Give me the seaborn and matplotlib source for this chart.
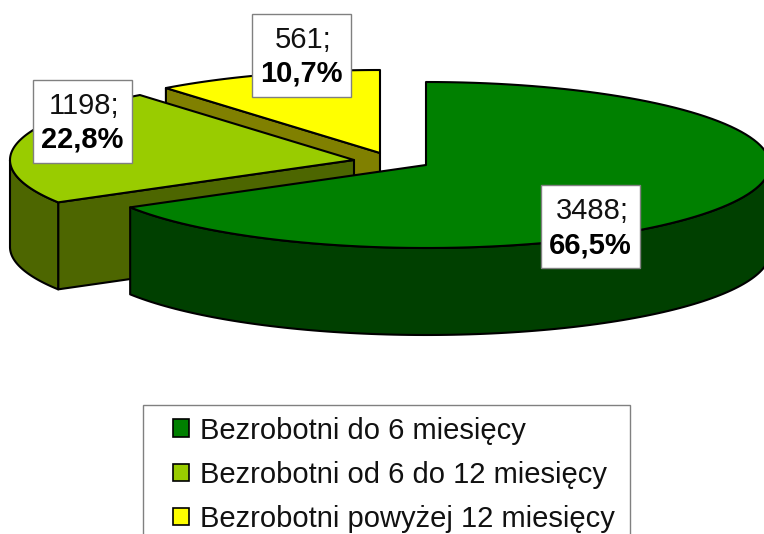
import numpy as np
import matplotlib
matplotlib.use('Agg')
import matplotlib.pyplot as plt
from matplotlib.patches import Patch, Rectangle
import seaborn as sns

# dane z wykresu
categories = ['Bezrobotni do 6 miesięcy', 'Bezrobotni od 6 do 12 miesięcy', 'Bezrobotni powyżej 12 miesięcy']
values = [3488, 1198, 561]
top_colors = ['#008000', '#99CC00', '#FFFF00']
side_colors = ['#004000', '#4D6600', '#808000']

# uklad w pikselach obrazka
apex = [(426, 165), (354, 160), (380, 153)]
label_boxes = [(541, 185), (33, 80), (252, 14)]
RX, RY, DEPTH = 344, 83, 87
BOX_W, BOX_H = 99, 83

sns.set_theme(style='white')
plt.rcParams['font.family'] = ['Liberation Sans', 'DejaVu Sans']


def rim(center, a0, a1):
    t = np.radians(np.linspace(a0, a1, 120))
    return center[0] + RX * np.sin(t), center[1] - RY * np.cos(t)


def wall(ax, xs, ys, color, z):
    x = np.r_[xs, xs[::-1]]
    y = np.r_[ys, ys[::-1] + DEPTH]
    ax.fill(x, y, facecolor=color, edgecolor='black', lw=1.5, joinstyle='round', zorder=z)


def top(ax, center, a0, a1, color, z):
    xs, ys = rim(center, a0, a1)
    ax.fill(np.r_[center[0], xs], np.r_[center[1], ys], facecolor=color,
            edgecolor='black', lw=1.5, joinstyle='round', zorder=z)


fig = plt.figure(figsize=(7.64, 5.34), dpi=100)
ax = fig.add_axes([0, 0, 1, 1])
ax.set_xlim(0, 764)
ax.set_ylim(534, 0)
ax.axis('off')

total = sum(values)
edges = np.r_[0, np.cumsum(values)] / total * 360
start, end = edges[:-1], edges[1:]

# zolty - z tylu
xs, ys = rim(apex[2], start[2], start[2])
wall(ax, np.array([xs[0], apex[2][0]]), np.array([ys[0], apex[2][1]]), side_colors[2], 1)
top(ax, apex[2], start[2], end[2], top_colors[2], 2)

# jasnozielony
xs, ys = rim(apex[1], start[1], start[1])
wall(ax, np.array([apex[1][0], xs[0]]), np.array([apex[1][1], ys[0]]), side_colors[1], 3)
xs, ys = rim(apex[1], start[1], 270)
wall(ax, xs, ys, side_colors[1], 3)
top(ax, apex[1], start[1], end[1], top_colors[1], 4)

# ciemnozielony - z przodu
xs, ys = rim(apex[0], 90, end[0])
wall(ax, xs, ys, side_colors[0], 5)
top(ax, apex[0], start[0], end[0], top_colors[0], 6)

# etykiety
for val, box in zip(values, label_boxes):
    ax.add_patch(Rectangle(box, BOX_W, BOX_H, facecolor='white', edgecolor='#808080', lw=1, zorder=7))
    pct = f'{val / total * 100:.1f}'.replace('.', ',')
    ax.text(box[0] + BOX_W / 2 + 2, box[1] + 26, f'{val};', fontsize=21, ha='center', va='center',
            color='#111111', zorder=8)
    ax.text(box[0] + BOX_W / 2, box[1] + 60, f'{pct}%', fontsize=21, fontweight='bold', ha='center',
            va='center', color='black', zorder=8)

# legenda
ax.add_patch(Rectangle((143, 405), 487, 140, facecolor='white', edgecolor='#808080', lw=1, zorder=7))
handles = [Patch(facecolor=c, edgecolor='black', lw=1.2) for c in top_colors]
leg = ax.legend(handles, categories, loc='upper left', bbox_to_anchor=(161 / 764, 1 - 405 / 534),
                frameon=False, fontsize=21, handlelength=0.56, handleheight=0.56,
                handletextpad=0.38, labelspacing=0.55, borderpad=0.4, borderaxespad=0,
                labelcolor='#111111')
leg.set_zorder(8)

plt.savefig('out.png', dpi=100)
plt.close('all')
